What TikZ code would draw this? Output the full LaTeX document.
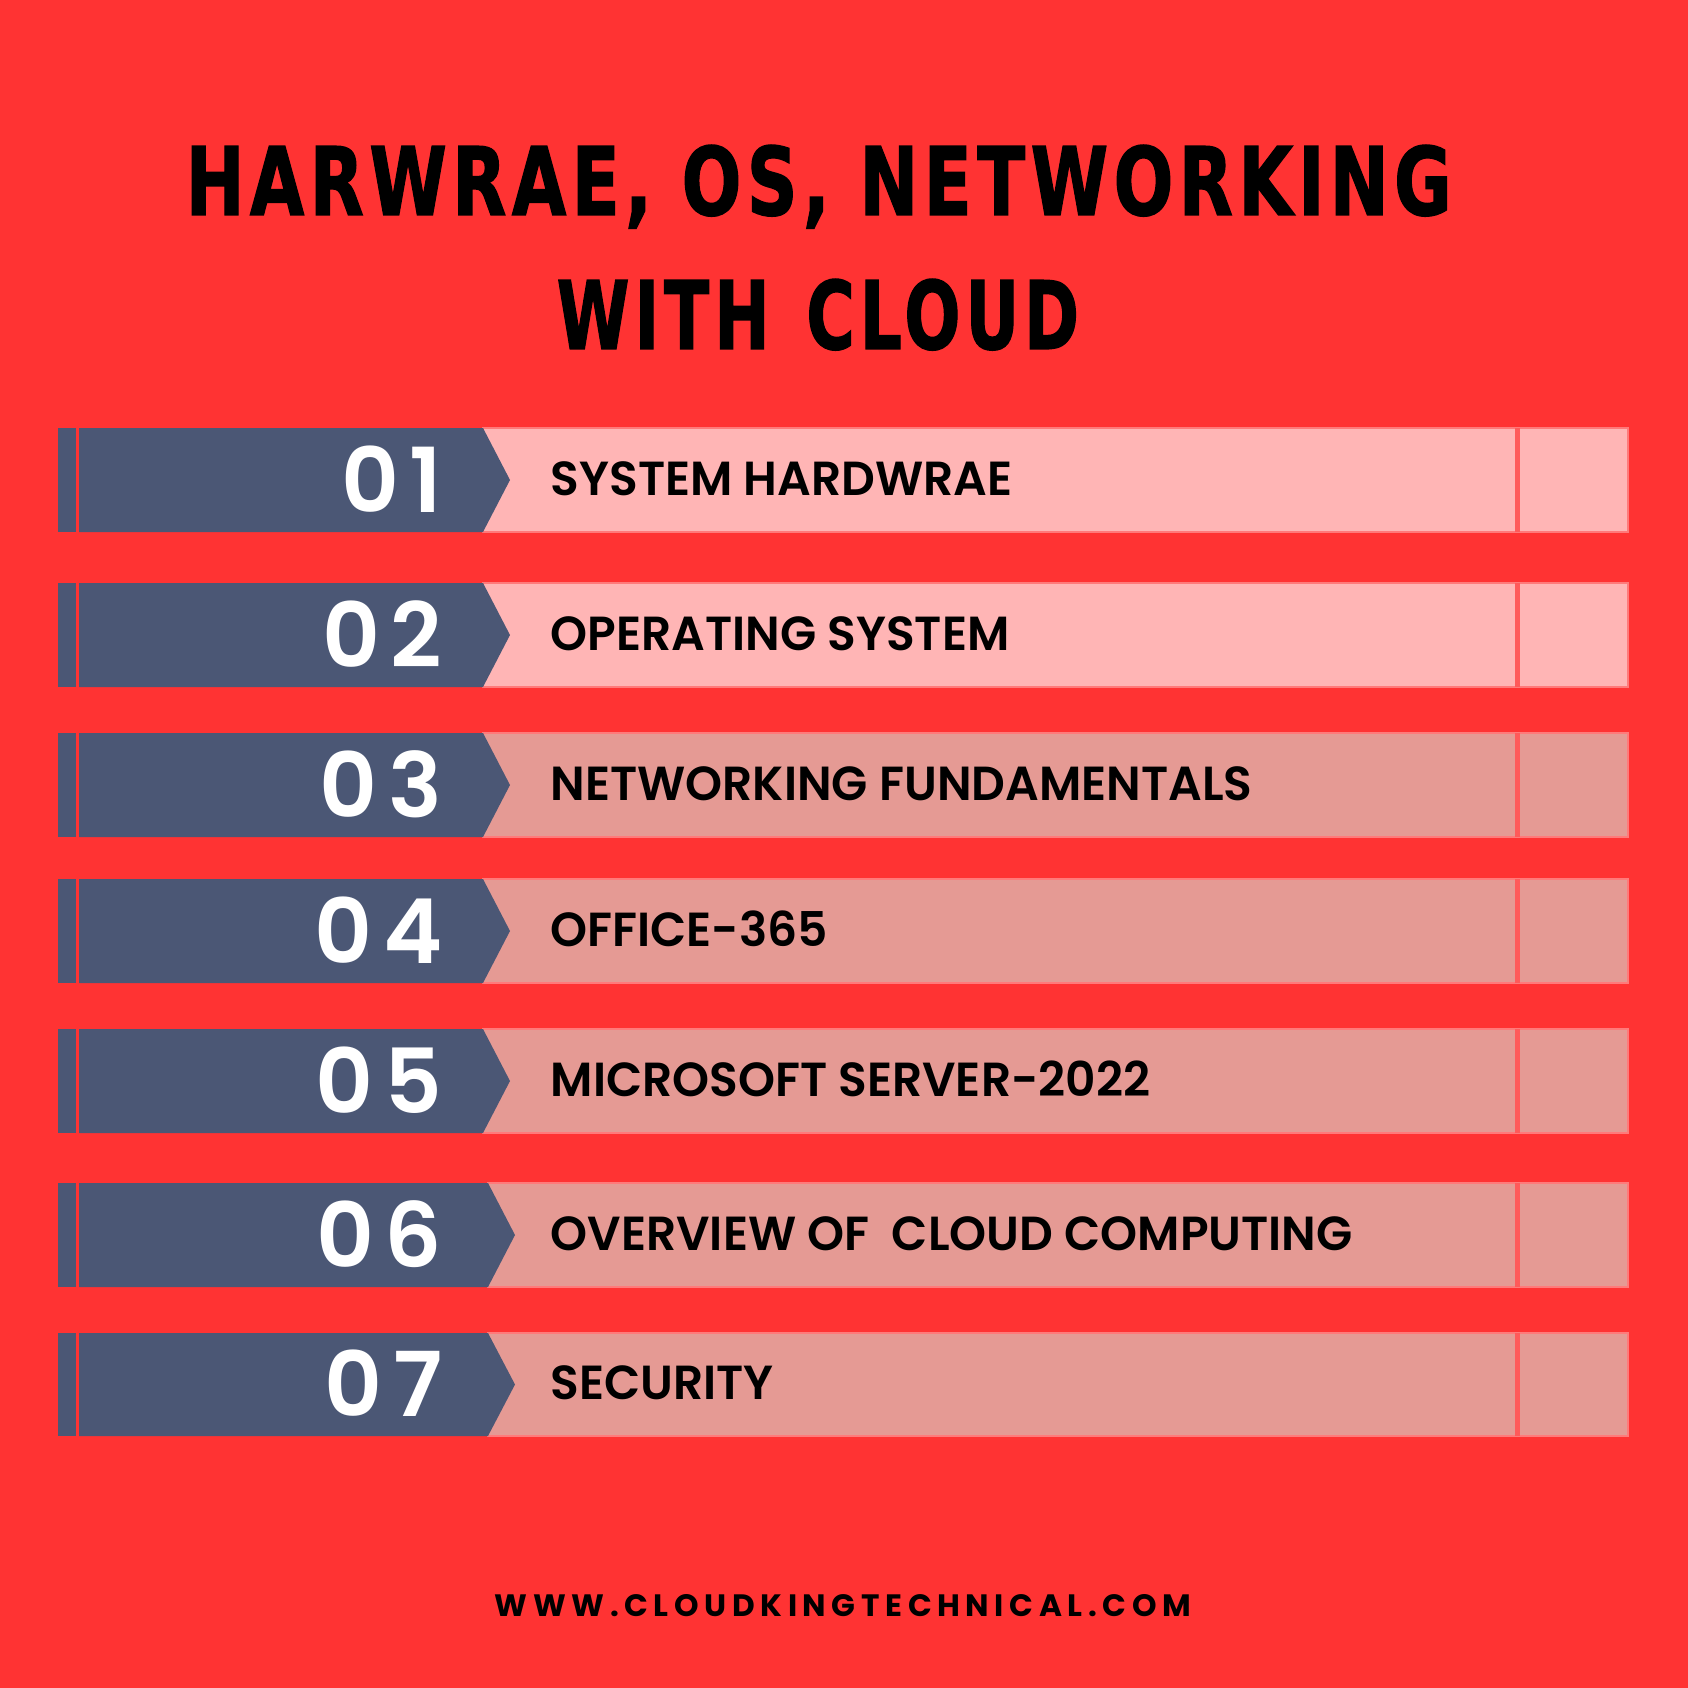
\documentclass[tikz,border=0pt]{standalone}
\usepackage{fontspec}
\usepackage{graphicx}
\setmainfont{Poppins}
\newfontfamily\titlefont[LetterSpace=7, FakeBold=1.5]{DejaVu Sans Condensed Bold}
\newfontfamily\numfont[LetterSpace=12]{Poppins SemiBold}
\newfontfamily\labfont[LetterSpace=0]{Poppins SemiBold}
\newfontfamily\footfont[LetterSpace=18]{Poppins Bold}
\definecolor{bg}{HTML}{FF3333}
\definecolor{navy}{HTML}{4B5775}
\definecolor{pinkA}{HTML}{FFB5B5}
\definecolor{pinkB}{HTML}{E59A94}
\definecolor{edgered}{HTML}{FF5A5A}
\definecolor{faintedge}{HTML}{FF7A7A}
\tikzset{
  numtext/.style={anchor=base east, inner sep=0pt, text=white, font=\numfont\fontsize{25.5}{28}\selectfont},
  labtext/.style={anchor=base west, inner sep=0pt, text=black, font=\labfont\fontsize{13.6}{16}\selectfont},
  titletext/.style={anchor=base west, inner sep=0pt, text=black},
  sepline/.style={draw=edgered, line width=0.05cm},
  barbox/.style={draw=faintedge, line width=0.012cm}
}
\begin{document}
\begin{tikzpicture}[x=0.01cm, y=-0.01cm]
\fill[bg] (0,0) rectangle (1688,1688);
\useasboundingbox (0,0) rectangle (1688,1688);
% title
\node[titletext] (title1) at (185,215) {\resizebox{12.65cm}{0.70cm}{\titlefont HARWRAE, OS, NETWORKING}};
\node[titletext] (title2) at (556,349) {\resizebox{5.22cm}{0.70cm}{\titlefont WITH\ \hspace{0.12em}CLOUD}};
% rows
\foreach \i/\t/\b/\ba/\tp/\col/\lab in {
  1/428/532/483/510/pinkA/SYSTEM HARDWRAE,
  2/583/687/483/510/pinkA/OPERATING SYSTEM,
  3/733/837/483/510/pinkB/NETWORKING FUNDAMENTALS,
  4/879/983/483/510/pinkB/OFFICE-365,
  5/1029/1133/483/510/pinkB/MICROSOFT SERVER-2022,
  6/1183/1287/488/515/pinkB/OVERVIEW OF\ \ CLOUD COMPUTING,
  7/1333/1436/488/515/pinkB/SECURITY}{
  \filldraw[barbox, fill=\col] (\ba,\t) rectangle (1628,\b);
  \draw[sepline] (1517,\t) -- (1517,\b);
  \fill[navy] (58,\t) rectangle (76,\b);
  \fill[navy] (79,\t) -- (\ba,\t) -- (\tp,{(\t+\b)/2}) -- (\ba,\b) -- (79,\b) -- cycle;
  \node[numtext] (num\i) at (443,{(\t+\b)/2+32}) {0\i};
  \node[labtext] (lab\i) at (550,{(\t+\b)/2+15}) {\scalebox{0.985}[1]{\lab}};
}
% footer
\node[titletext] (footer) at (494,1616) {\resizebox{6.96cm}{0.22cm}{\footfont WWW.CLOUDKINGTECHNICAL.COM}};
\end{tikzpicture}
\end{document}
